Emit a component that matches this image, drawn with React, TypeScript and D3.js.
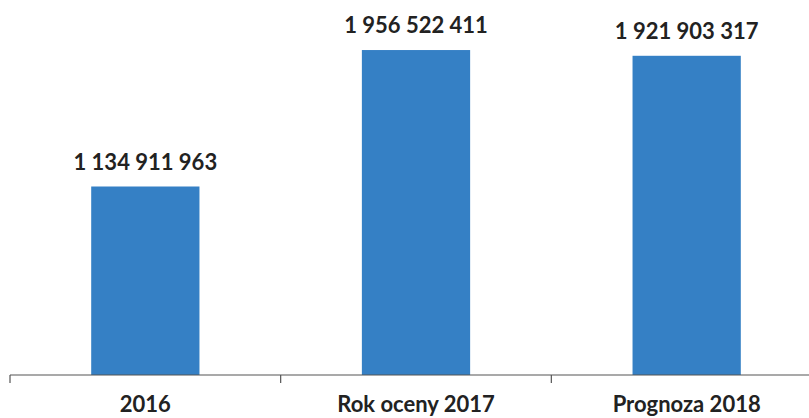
import React from "react";
import * as d3 from "d3";

const categories = ["2016", "Rok oceny 2017", "Prognoza 2018"];
const values = [1134911963, 1956522411, 1921903317];
const valueLabels = ["1 134 911 963", "1 956 522 411", "1 921 903 317"];

const W = 809;
const H = 418;
const axisY = 375;

export default function App() {
  const x = d3.scaleBand<string>().domain(categories).range([10, 822]).padding(0);
  const bandW = x.bandwidth();
  const barW = bandW * 0.4;
  const y = d3.scaleLinear().domain([0, 2200000000]).range([axisY, axisY - 365.4]);
  const ticks = [...categories.map((c) => x(c) as number), 822];
  return (
    <svg width={W} height={H} style={{ position: "absolute", left: 0, top: 0 }}>
      <rect width={W} height={H} fill="#fff" />
      {categories.map((c, i) => {
        const cx = (x(c) as number) + bandW / 2;
        return (
          <g key={c}>
            <rect x={cx - barW / 2} y={y(values[i])} width={barW} height={axisY - y(values[i])} fill="#3580c5" />
            <text x={cx} y={y(values[i]) - 17} textAnchor="middle" fontFamily="Lato" fontWeight={700} fontSize={22} fill="#222">
              {valueLabels[i]}
            </text>
            <text x={cx} y={412} textAnchor="middle" fontFamily="Lato" fontWeight={700} fontSize={22} fill="#222">
              {c}
            </text>
          </g>
        );
      })}
      <line x1={10} x2={W} y1={axisY} y2={axisY} stroke="#555" strokeWidth={1.2} />
      {ticks.map((t, i) => (
        <line key={i} x1={t} x2={t} y1={axisY} y2={axisY + 8} stroke="#555" strokeWidth={1.2} />
      ))}
    </svg>
  );
}
